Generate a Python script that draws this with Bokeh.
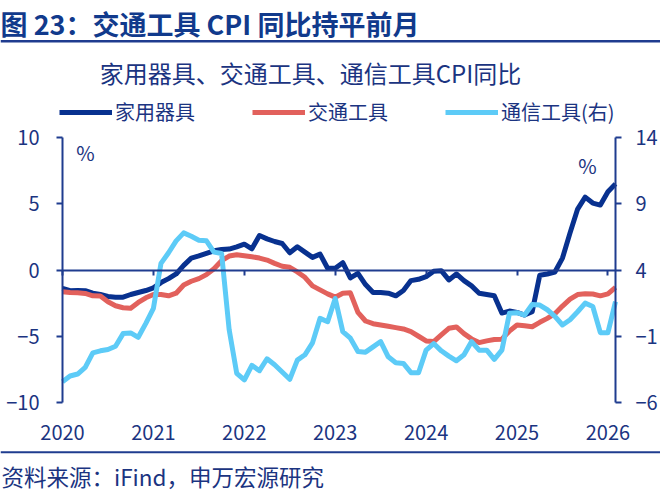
from bokeh.plotting import figure
from bokeh.models import (Range1d, LinearAxis, FixedTicker, Label, Legend, LegendItem,
                          Span, ColumnDataSource)
from bokeh.embed import file_html
from bokeh.resources import INLINE

FONT = "Noto Sans CJK SC"
TXT = "#1B3481"
AXC = "#1F3C8F"
C_APPL = "#08318F"
C_TRAN = "#E2615C"
C_TELE = "#5DCBF7"

# ---------------- data (monthly, Jan 2020 .. Feb 2026) ----------------
year_labels = ["2020", "2021", "2022", "2023", "2024", "2025", "2026"]
left_ticks = [-10, -5, 0, 5, 10]
right_ticks = [-6, -1, 4, 9, 14]

appliances = [-1.38, -1.56, -1.55, -1.56, -1.75, -1.85, -2.0, -2.05, -2.05, -1.85,
              -1.7, -1.55, -1.35, -0.95, -0.65, -0.3, 0.35, 0.9, 1.06, 1.25,
              1.45, 1.55, 1.58, 1.75, 1.95, 1.6, 2.6, 2.35, 2.15, 2.0,
              1.3, 1.75, 1.35, 0.95, 1.2, 0.13, 0.13, 0.55, -0.6, -0.25,
              -1.1, -1.7, -1.7, -1.75, -1.95, -1.55, -0.8, -0.7, -0.5, -0.1,
              -0.05, -0.75, -0.3, -0.8, -1.2, -1.75, -1.85, -1.95, -3.25, -3.1,
              -3.2, -3.4, -3.15, -0.4, -0.3, -0.15, 0.9, 2.8, 4.6, 5.5,
              5.05, 4.9, 5.9, 6.5]

transport = [-1.64, -1.7, -1.72, -1.77, -1.95, -1.97, -2.4, -2.7, -2.85, -2.89,
             -2.45, -2.1, -1.85, -1.85, -1.95, -1.75, -1.13, -0.85, -0.65, -0.35,
             0.1, 0.7, 1.05, 1.15, 1.08, 1.0, 0.9, 0.75, 0.5, 0.28,
             0.2, -0.15, -0.55, -1.2, -1.5, -1.8, -2.05, -1.75, -1.72, -3.2,
             -3.85, -4.05, -4.15, -4.25, -4.35, -4.45, -4.65, -5.0, -5.35, -5.4,
             -4.9, -4.4, -4.3, -4.8, -5.2, -5.48, -5.35, -5.25, -5.23, -4.6,
             -4.15, -4.2, -4.28, -3.95, -3.65, -3.3, -2.72, -2.2, -1.85, -1.8,
             -1.81, -1.95, -1.8, -1.31]

telecom = [-4.43, -4.0, -3.85, -3.35, -2.25, -2.1, -2.0, -1.75, -0.8, -0.75,
           -1.08, -0.03, 1.1, 4.5, 5.3, 6.2, 6.8, 6.55, 6.25, 6.2,
           5.35, 5.25, -0.5, -3.8, -4.3, -3.2, -3.6, -2.7, -3.15, -3.7,
           -4.25, -2.8, -2.4, -1.5, 0.35, 0.1, 1.85, -0.65, -1.15, -2.15,
           -2.2, -1.8, -1.4, -2.55, -3.0, -3.05, -3.75, -3.75, -2.05, -1.55,
           -2.1, -2.5, -2.85, -2.4, -1.4, -2.05, -2.05, -2.75, -2.05, 0.73,
           0.78, 0.6, 1.4, 1.35, 1.0, 0.5, -0.15, 0.25, 0.85, 1.5,
           1.25, -0.73, -0.73, 1.61]

months = list(range(len(appliances)))
year_ticks = [12 * k for k in range(len(year_labels))]
last = months[-1]

# ---------------- page layout (pixels) ----------------
W, H = 660, 491
PX_LEFT, PX_RIGHT = 62, 615      # page x of first / last month (axis lines)
PY_TOP, PY_BOT = 137, 402        # page y of the top / bottom of the left scale
ppm = (PX_RIGHT - PX_LEFT) / last
ppu = (PY_BOT - PY_TOP) / (left_ticks[-1] - left_ticks[0])


def dx(px):
    return (px - PX_LEFT) / ppm


def dy(py):
    return left_ticks[0] + (PY_BOT - py) / ppu


shift = right_ticks[0] - left_ticks[0]

p = figure(width=W, height=H, output_backend="svg", toolbar_location=None,
           x_range=Range1d(dx(0), dx(W)), y_range=Range1d(dy(H), dy(0)),
           x_axis_type=None, y_axis_type=None,
           min_border_left=0, min_border_right=0, min_border_top=0, min_border_bottom=0)
p.outline_line_color = None
p.background_fill_color = "white"
p.border_fill_color = "white"
p.extra_y_ranges = {"right": Range1d(dy(H) + shift, dy(0) + shift)}


def style_axis(ax):
    ax.axis_line_color = AXC
    ax.axis_line_width = 2
    ax.major_tick_line_color = AXC
    ax.major_tick_line_width = 2
    ax.minor_tick_line_color = None
    ax.major_tick_in = 0
    ax.major_tick_out = 6
    ax.major_label_text_font = FONT
    ax.major_label_text_font_size = "20px"
    ax.major_label_text_color = TXT


ly = LinearAxis(ticker=FixedTicker(ticks=left_ticks), fixed_location=months[0],
                bounds=(left_ticks[0], left_ticks[-1]))
style_axis(ly)
ly.major_label_standoff = 17
p.add_layout(ly, "left")

ry = LinearAxis(y_range_name="right", ticker=FixedTicker(ticks=right_ticks), fixed_location=last,
                bounds=(right_ticks[0], right_ticks[-1]))
style_axis(ry)
ry.major_label_standoff = 14
p.add_layout(ry, "right")

bx = LinearAxis(ticker=FixedTicker(ticks=year_ticks), fixed_location=left_ticks[0],
                major_label_overrides={t: lab for t, lab in zip(year_ticks, year_labels)})
style_axis(bx)
bx.axis_line_color = None
bx.major_tick_line_color = None
bx.major_tick_out = 0
bx.major_label_standoff = 22
p.add_layout(bx, "below")

zx = LinearAxis(ticker=FixedTicker(ticks=year_ticks), fixed_location=0, bounds=(months[0], last),
                major_label_overrides={t: "" for t in year_ticks})
style_axis(zx)
zx.major_tick_out = 5
zx.major_label_text_font_size = "1px"
p.add_layout(zx, "below")

src = ColumnDataSource(dict(m=months, a=appliances, t=transport, c=telecom))
r1 = p.line("m", "a", source=src, line_color=C_APPL, line_width=5, line_join="round")
r2 = p.line("m", "t", source=src, line_color=C_TRAN, line_width=5, line_join="round")
r3 = p.line("m", "c", source=src, line_color=C_TELE, line_width=5, line_join="round",
            y_range_name="right")

legend = Legend(items=[LegendItem(label="家用器具", renderers=[r1]),
                       LegendItem(label="交通工具", renderers=[r2]),
                       LegendItem(label="通信工具(右)", renderers=[r3])],
                orientation="horizontal", location=(59, H - 114 - 12),
                glyph_width=53, glyph_height=24, label_height=24, label_standoff=3, spacing=57,
                padding=0, margin=0, border_line_color=None, background_fill_alpha=0,
                label_text_font=FONT, label_text_font_size="20px", label_text_color=TXT)
p.add_layout(legend)


def txt(text, px, py, size, bold=False, align="left", color=TXT):
    p.add_layout(Label(x=dx(px), y=dy(py), text=text,
                       text_font=FONT, text_font_size=size, text_color=color,
                       text_font_style="bold" if bold else "normal",
                       text_align=align, text_baseline="middle"))


txt("图 23：交通工具 CPI 同比持平前月", 0, 22.5, "27px", bold=True, color="#113A8C")
p.add_layout(Span(location=dy(40.8), dimension="width", line_color=AXC, line_width=2.5))
txt("家用器具、交通工具、通信工具CPI同比", 310, 72, "24px", align="center")
txt("%", 85, 152, "20px", align="center")
txt("%", 587, 165, "20px", align="center")
p.add_layout(Span(location=dy(451.7), dimension="width", line_color=AXC, line_width=2))
txt("资料来源：iFind，申万宏源研究", 1, 475, "22.5px")

open("out.html", "w").write(file_html(p, INLINE))
